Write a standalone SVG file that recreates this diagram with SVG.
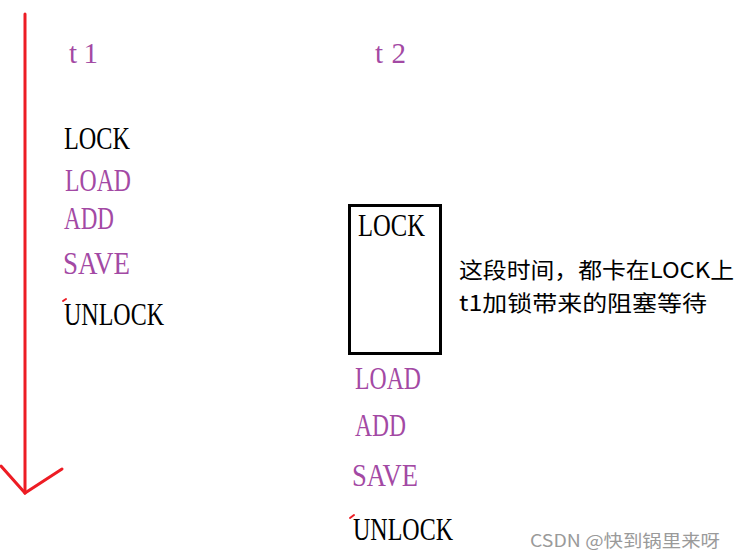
<svg xmlns="http://www.w3.org/2000/svg" width="736" height="560" viewBox="0 0 736 560">
<style>
.lbl{font-family:"Liberation Serif","Noto Sans CJK SC",serif;font-size:31px}
.p{fill:#a349a4}
.k{fill:#000}
.hd{font-family:"Liberation Serif",serif;font-size:29px;fill:#a349a4}
.cn{font-family:"Noto Sans CJK SC",sans-serif;font-size:22px;fill:#000}
.red{stroke:#ed1c24;fill:none;stroke-linecap:round}
</style>
<rect width="736" height="560" fill="#fff"/>
<g id="connectors">
<line class="red" x1="25" y1="14" x2="25" y2="493" stroke-width="3"/>
<polyline class="red" points="1,466 25,493 62,469" stroke-width="3"/>
</g>
<g id="t1">
<text class="hd" x="69" y="63" textLength="29" lengthAdjust="spacing">t1</text>
<text class="lbl k" x="64" y="149" textLength="66" lengthAdjust="spacingAndGlyphs">LOCK</text>
<text class="lbl p" x="65" y="191" textLength="66" lengthAdjust="spacingAndGlyphs">LOAD</text>
<text class="lbl p" x="64" y="229" textLength="50" lengthAdjust="spacingAndGlyphs">ADD</text>
<text class="lbl p" x="63" y="274" textLength="67" lengthAdjust="spacingAndGlyphs">SAVE</text>
<line class="red" x1="63" y1="301" x2="66" y2="299" stroke-width="2"/>
<text class="lbl k" x="64" y="325" textLength="100" lengthAdjust="spacingAndGlyphs">UNLOCK</text>
</g>
<g id="t2">
<text class="hd" x="375" y="63" textLength="31" lengthAdjust="spacing">t2</text>
</g>
<g id="lockbox">
<rect x="349.5" y="205.5" width="91" height="148" fill="none" stroke="#000" stroke-width="3"/>
<text class="lbl k" x="358" y="236" textLength="67" lengthAdjust="spacingAndGlyphs">LOCK</text>
</g>
<g id="note">
<text class="cn" x="459" y="278" textLength="275" lengthAdjust="spacingAndGlyphs">这段时间，都卡在LOCK上</text>
<text class="cn" x="459" y="311" textLength="248" lengthAdjust="spacingAndGlyphs">t1加锁带来的阻塞等待</text>
</g>
<g id="t2ops">
<text class="lbl p" x="355" y="389" textLength="66" lengthAdjust="spacingAndGlyphs">LOAD</text>
<text class="lbl p" x="355" y="436" textLength="51" lengthAdjust="spacingAndGlyphs">ADD</text>
<text class="lbl p" x="352" y="486" textLength="66" lengthAdjust="spacingAndGlyphs">SAVE</text>
<line class="red" x1="350" y1="518" x2="354" y2="515" stroke-width="2"/>
<text class="lbl k" x="353" y="540" textLength="100" lengthAdjust="spacingAndGlyphs">UNLOCK</text>
</g>
<g id="watermark">
<text x="530" y="547" font-family="'Noto Sans CJK SC',sans-serif" font-size="17" fill="#9a9a9a" textLength="190" lengthAdjust="spacingAndGlyphs">CSDN @快到锅里来呀</text>
</g>
</svg>
